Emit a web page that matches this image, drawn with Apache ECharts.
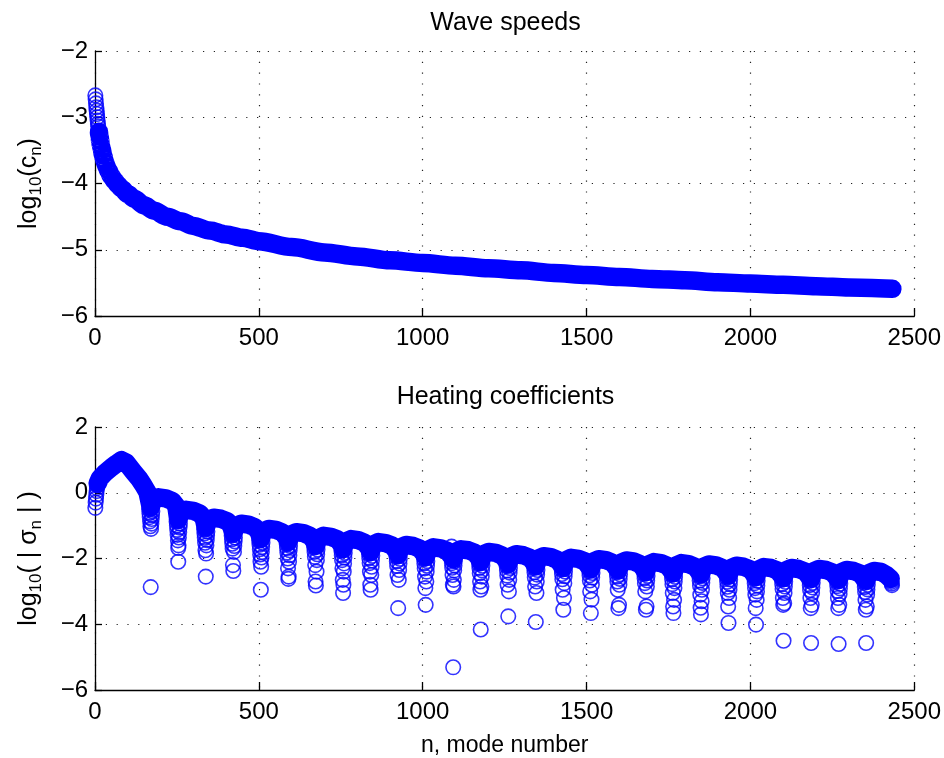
<!DOCTYPE html>
<html>
<head>
<meta charset="utf-8">
<script src="https://cdn.jsdelivr.net/npm/echarts@6/dist/echarts.min.js"></script>
<style>
  html, body { margin: 0; padding: 0; background: #fff; }
  #chart { width: 944px; height: 758px; }
</style>
</head>
<body>
<div id="chart"></div>
<script>
// upper panel: log10(c_n)
const speedN = [1, 2, 3, 4, 5, 6, 7, 8, 9, 10, 12, 14, 16, 18, 20, 25, 30, 35, 40, 50, 60, 70, 80,
  100, 120, 150, 180, 220, 260, 300, 350, 400, 450, 500, 600, 700, 800, 900, 1000,
  1100, 1200, 1300, 1400, 1500, 1600, 1700, 1800, 1900, 2000, 2100, 2200, 2300, 2433];
const speedLog = [-2.67, -2.73, -2.79, -2.85, -2.90, -2.95, -3.00, -3.05, -3.10, -3.14, -3.22, -3.29, -3.36, -3.42, -3.47, -3.58, -3.67, -3.74, -3.80, -3.89, -3.96, -4.02, -4.07,
  -4.16, -4.23, -4.33, -4.41, -4.50, -4.57, -4.64, -4.71, -4.77, -4.82, -4.87, -4.96, -5.04, -5.10, -5.16, -5.20,
  -5.24, -5.28, -5.31, -5.35, -5.38, -5.41, -5.44, -5.46, -5.49, -5.51, -5.53, -5.55, -5.57, -5.59];

// lower panel: log10(|sigma_n|), upper band of arches between the dips
const heatBand = [
  [8, 0.28], [15, 0.44], [30, 0.60], [50, 0.77], [65, 0.88], [81, 0.99], [95, 0.92], [117, 0.64], [135, 0.42], [147, 0.24], [160, 0.02],
  [170, -0.44], [178, -0.21], [194, -0.14], [216, -0.17], [236, -0.25], [248, -0.40],
  [254, -0.82], [262, -0.59], [278, -0.52], [300, -0.55], [320, -0.63], [332, -0.78],
  [338, -1.06], [346, -0.83], [362, -0.76], [384, -0.79], [404, -0.87], [416, -1.02],
  [422, -1.24], [430, -1.01], [446, -0.94], [468, -0.97], [488, -1.05], [500, -1.20],
  [506, -1.40], [514, -1.17], [530, -1.10], [552, -1.13], [572, -1.21], [584, -1.36],
  [590, -1.50], [598, -1.27], [614, -1.20], [636, -1.23], [656, -1.31], [668, -1.46],
  [674, -1.61], [682, -1.38], [698, -1.31], [720, -1.34], [740, -1.42], [752, -1.57],
  [757, -1.71], [765, -1.48], [781, -1.41], [803, -1.44], [823, -1.52], [835, -1.67],
  [841, -1.80], [849, -1.57], [865, -1.50], [887, -1.53], [907, -1.61], [919, -1.76],
  [925, -1.89], [933, -1.66], [949, -1.59], [971, -1.62], [991, -1.70], [1003, -1.85],
  [1009, -1.96], [1017, -1.73], [1033, -1.66], [1055, -1.69], [1075, -1.77], [1087, -1.92],
  [1093, -2.02], [1101, -1.79], [1117, -1.72], [1139, -1.75], [1159, -1.83], [1171, -1.98],
  [1177, -2.10], [1185, -1.87], [1201, -1.80], [1223, -1.83], [1243, -1.91], [1255, -2.06],
  [1261, -2.17], [1269, -1.94], [1285, -1.87], [1307, -1.90], [1327, -1.98], [1339, -2.13],
  [1345, -2.23], [1353, -2.00], [1369, -1.93], [1391, -1.96], [1411, -2.04], [1423, -2.19],
  [1429, -2.28], [1437, -2.05], [1453, -1.98], [1475, -2.01], [1495, -2.09], [1507, -2.24],
  [1513, -2.32], [1521, -2.09], [1537, -2.02], [1559, -2.05], [1579, -2.13], [1591, -2.28],
  [1597, -2.36], [1605, -2.13], [1621, -2.06], [1643, -2.09], [1663, -2.17], [1675, -2.32],
  [1681, -2.41], [1689, -2.18], [1705, -2.11], [1727, -2.14], [1747, -2.22], [1759, -2.37],
  [1765, -2.44], [1773, -2.21], [1789, -2.14], [1811, -2.17], [1831, -2.25], [1843, -2.40],
  [1849, -2.48], [1857, -2.25], [1873, -2.18], [1895, -2.21], [1915, -2.29], [1927, -2.44],
  [1933, -2.52], [1941, -2.29], [1957, -2.22], [1979, -2.25], [1999, -2.33], [2011, -2.48],
  [2017, -2.56], [2025, -2.33], [2041, -2.26], [2063, -2.29], [2083, -2.37], [2095, -2.52],
  [2101, -2.59], [2109, -2.36], [2125, -2.29], [2147, -2.32], [2167, -2.40], [2179, -2.55],
  [2185, -2.62], [2193, -2.39], [2209, -2.32], [2231, -2.35], [2251, -2.43], [2263, -2.58],
  [2269, -2.65], [2277, -2.42], [2293, -2.35], [2315, -2.38], [2335, -2.46], [2347, -2.61],
  [2353, -2.68], [2361, -2.45], [2377, -2.38], [2399, -2.41], [2415, -2.50], [2428, -2.62]
];

// single rings at the start and at the end of the lower panel
const edgeN = [1, 2, 3, 4, 5, 6, 7, 2429, 2430, 2431, 2432];
const edgeLog = [-0.46, -0.30, -0.18, -0.06, 0.05, 0.14, 0.22, -2.66, -2.71, -2.76, -2.81];

// rings hanging below each dip (dip mode number, values top to bottom)
const fingerN = [170, 254, 338, 422, 506, 590, 674, 757, 841, 925, 1009, 1093, 1177, 1261,
  1345, 1429, 1513, 1597, 1681, 1765, 1849, 1933, 2017, 2101, 2185, 2269, 2353];
// mode-number offset of the stacked rings from the dip, top ring first
const fingerSpread = [-5, 5, -4, 4, -3, 3, -2, 2, -1, 1, 0, 0];
const fingerLog = [
  [-0.50, -0.56, -0.62, -0.68, -0.74, -0.80, -0.87, -0.94, -1.02, -1.10, -2.87],
  [-0.88, -0.94, -1.00, -1.06, -1.13, -1.20, -1.28, -1.36, -1.45, -1.60, -1.68, -2.10],
  [-1.12, -1.18, -1.24, -1.30, -1.37, -1.44, -1.52, -1.60, -1.75, -1.85, -2.55],
  [-1.30, -1.36, -1.42, -1.48, -1.55, -1.62, -1.70, -1.80, -2.20, -2.38],
  [-1.46, -1.52, -1.58, -1.65, -1.72, -1.80, -1.88, -1.97, -2.10, -2.25, -2.95],
  [-1.56, -1.62, -1.68, -1.75, -1.82, -1.90, -2.00, -2.10, -2.30, -2.55, -2.62],
  [-1.67, -1.73, -1.80, -1.87, -1.95, -2.05, -2.20, -2.40, -2.70, -2.82],
  [-1.77, -1.83, -1.90, -1.97, -2.05, -2.15, -2.30, -2.40, -2.65, -2.80, -3.05],
  [-1.86, -1.92, -1.99, -2.06, -2.14, -2.25, -2.40, -2.50, -2.80, -2.95],
  [-1.95, -2.01, -2.08, -2.15, -2.23, -2.35, -2.50, -2.65, -3.51],
  [-2.02, -2.08, -2.15, -2.22, -2.30, -2.40, -2.55, -2.70, -2.90, -3.41],
  [-1.64, -2.08, -2.14, -2.21, -2.28, -2.36, -2.50, -2.65, -2.80, -2.85, -5.31],
  [-2.16, -2.22, -2.29, -2.36, -2.45, -2.55, -2.70, -2.85, -2.95, -4.16],
  [-2.23, -2.29, -2.36, -2.43, -2.52, -2.65, -2.80, -3.00, -3.76],
  [-2.29, -2.35, -2.42, -2.49, -2.58, -2.70, -2.85, -3.05, -3.93],
  [-2.34, -2.40, -2.47, -2.54, -2.63, -2.75, -2.95, -3.20, -3.56],
  [-2.38, -2.44, -2.51, -2.58, -2.67, -2.80, -3.00, -3.25, -3.66],
  [-2.42, -2.48, -2.55, -2.62, -2.70, -2.80, -2.95, -3.41, -3.51],
  [-2.47, -2.53, -2.60, -2.67, -2.75, -2.85, -3.00, -3.46, -3.56],
  [-2.50, -2.56, -2.63, -2.70, -2.78, -2.90, -3.05, -3.26, -3.46, -3.66],
  [-2.54, -2.60, -2.67, -2.74, -2.82, -2.95, -3.10, -3.30, -3.50, -3.70],
  [-2.58, -2.64, -2.71, -2.78, -2.86, -2.95, -3.05, -3.20, -3.46, -3.96],
  [-2.62, -2.68, -2.75, -2.82, -2.90, -3.00, -3.10, -3.26, -3.51, -4.01],
  [-2.65, -2.71, -2.78, -2.85, -2.93, -3.05, -3.20, -3.36, -3.41, -4.50],
  [-2.68, -2.74, -2.81, -2.88, -2.96, -3.05, -3.20, -3.41, -3.51, -4.57],
  [-2.71, -2.77, -2.84, -2.91, -2.99, -3.08, -3.20, -3.41, -3.51, -4.60],
  [-2.74, -2.80, -2.87, -2.94, -3.02, -3.10, -3.26, -3.46, -3.56, -4.57]
];

const xTicks = [0, 500, 1000, 1500, 2000, 2500];

const font = '"Liberation Sans", Arial, Helvetica, sans-serif';
const blue = '#0000ff';
const ringSize = 14.5;
const bandWidth = 18.5;

const speedPts = speedN.map((n, i) => [n, speedLog[i]]);
const speedBand = speedPts.filter(p => p[0] >= 12);
const heatRings = edgeN.map((n, i) => [n, edgeLog[i]]);
fingerN.forEach((n, k) => {
  const vals = fingerLog[k];
  vals.forEach((v, i) => {
    // the lone lowest ring sits right on the dip
    const off = i === vals.length - 1 ? 0 : (fingerSpread[i] || 0);
    heatRings.push([n + off, v]);
  });
});

function minus(v) {
  return v < 0 ? '\u2212' + Math.abs(v) : String(v);
}

function xAxis(gridIndex, name) {
  return {
    type: 'value', gridIndex: gridIndex,
    min: xTicks[0], max: xTicks[xTicks.length - 1], interval: 500,
    name: name, nameLocation: 'middle', nameGap: 44,
    nameTextStyle: { fontFamily: font, fontSize: 23, color: '#000' },
    axisLine: { show: true, onZero: false, lineStyle: { color: '#000', width: 1.3 } },
    axisTick: { show: true, inside: true, length: 8, lineStyle: { color: '#000', width: 1.3 } },
    axisLabel: { fontFamily: font, fontSize: 24, color: '#000', margin: 10, formatter: minus },
    splitLine: { show: true, lineStyle: { color: '#222', width: 1.2, type: [1.2, 9.6] } }
  };
}

function yAxis(gridIndex, min, max, step, name, rich) {
  return {
    type: 'value', gridIndex: gridIndex, min: min, max: max, interval: step,
    name: name, nameLocation: 'middle', nameGap: 50, nameRotate: 90,
    nameTextStyle: { rich: rich },
    axisLine: { show: true, onZero: false, lineStyle: { color: '#000', width: 1.3 } },
    axisTick: { show: true, inside: true, length: 7, lineStyle: { color: '#000', width: 1.3 } },
    axisLabel: { fontFamily: font, fontSize: 24, color: '#000', margin: 7, formatter: minus },
    splitLine: { show: true, lineStyle: { color: '#222', width: 1.2, type: [1.2, 9.6] } }
  };
}

const nameRich = {
  a: { fontFamily: font, fontSize: 25, color: '#000', lineHeight: 28, verticalAlign: 'top' },
  b: { fontFamily: font, fontSize: 17, color: '#000', lineHeight: 18, padding: [17, 0, 0, 0], verticalAlign: 'bottom' }
};

const ringStyle = { color: 'rgba(0,0,0,0)', borderColor: blue, borderWidth: 1.6 };

const chart = echarts.init(document.getElementById('chart'), null, { renderer: 'canvas' });
chart.setOption({
  animation: false,
  backgroundColor: '#fff',
  grid: [
    { left: 95, right: 28, top: 51, height: 265 },
    { left: 95, right: 28, top: 427, height: 266 }
  ],
  graphic: [
    { type: 'text', x: 505.5, y: 23.5, style: { text: 'Wave speeds', fill: '#000', font: '25px ' + font, align: 'center', verticalAlign: 'middle' } },
    { type: 'text', x: 505.5, y: 397, style: { text: 'Heating coefficients', fill: '#000', font: '25px ' + font, align: 'center', verticalAlign: 'middle' } }
  ],
  xAxis: [xAxis(0, ''), xAxis(1, 'n, mode number')],
  yAxis: [
    yAxis(0, -6, -2, 1, '{a|log}{b|10}{a|(c}{b|n}{a|)}', nameRich),
    yAxis(1, -6, 2, 2, '{a|log}{b|10}{a|( | \u03c3}{b|n}{a| | )}', nameRich)
  ],
  series: [
    {
      type: 'line', xAxisIndex: 0, yAxisIndex: 0, data: speedBand,
      showSymbol: false, smooth: 0.3, smoothMonotone: 'x', clip: false,
      lineStyle: { color: blue, width: bandWidth, cap: 'round', join: 'round' }
    },
    {
      type: 'scatter', xAxisIndex: 0, yAxisIndex: 0, data: speedPts,
      symbol: 'circle', symbolSize: ringSize, clip: false, itemStyle: ringStyle
    },
    {
      type: 'line', xAxisIndex: 1, yAxisIndex: 1, data: heatBand,
      showSymbol: false, clip: false,
      lineStyle: { color: blue, width: bandWidth, cap: 'round', join: 'round' }
    },
    {
      type: 'scatter', xAxisIndex: 1, yAxisIndex: 1, data: heatRings,
      symbol: 'circle', symbolSize: ringSize, clip: false, itemStyle: ringStyle
    }
  ]
});
</script>
</body>
</html>
